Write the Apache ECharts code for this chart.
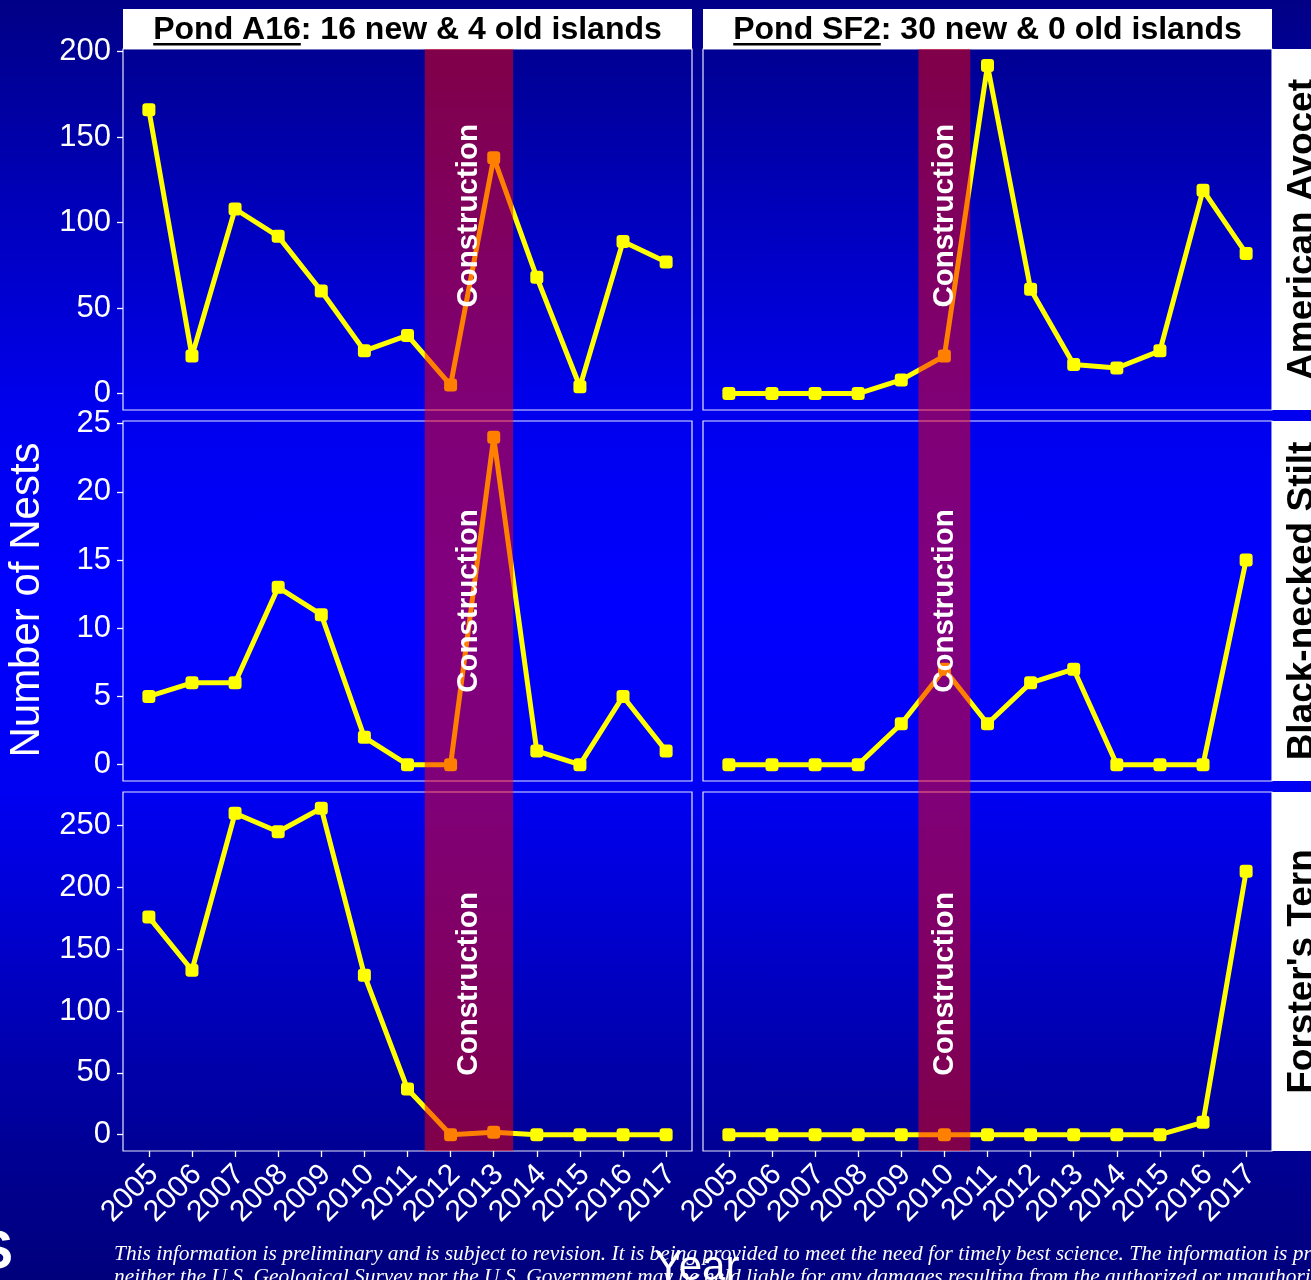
<!DOCTYPE html>
<html>
<head>
<meta charset="utf-8">
<script src="https://cdn.jsdelivr.net/npm/echarts@6/dist/echarts.min.js"></script>
<style>
  html, body { margin: 0; padding: 0; }
  body {
    width: 1311px; height: 1280px; overflow: hidden;
    background: linear-gradient(to bottom, #000086 0%, #0000ee 32%, #0000ff 47%, #0000f2 62%, #000094 90%, #00007c 100%);
  }
  #chart { width: 1311px; height: 1280px; }
</style>
</head>
<body>
<div id="chart"></div>
<script>
// Nest counts per survey year, one array per pond and species
const years = [2005, 2006, 2007, 2008, 2009, 2010, 2011, 2012, 2013, 2014, 2015, 2016, 2017];
const avocetA16 = [166, 22, 108, 92, 60, 25, 34, 5, 138, 68, 4, 89, 77];
const avocetSF2 = [0, 0, 0, 0, 8, 22, 192, 61, 17, 15, 25, 119, 82];
const stiltA16  = [5, 6, 6, 13, 11, 2, 0, 0, 24, 1, 0, 5, 1];
const stiltSF2  = [0, 0, 0, 0, 3, 7, 3, 6, 7, 0, 0, 0, 15];
const ternA16   = [176, 133, 260, 245, 264, 129, 37, 0, 2, 0, 0, 0, 0];
const ternSF2   = [0, 0, 0, 0, 0, 0, 0, 0, 0, 0, 0, 10, 213];

// Island construction windows (year range) for each pond
const constructionA16 = [2011.4, 2013.45];
const constructionSF2 = [2009.4, 2010.6];
const constructionLabelY = [104, 12, 122];

// Facet labels
const pondNames = ['Pond A16', 'Pond SF2'];
const pondNotes = [': 16 new & 4 old islands', ': 30 new & 0 old islands'];
const speciesNames = ['American Avocet', 'Black-necked Stilt', "Forster's Tern"];

// Y tick labels per species row
const yTicksAvocet = [0, 50, 100, 150, 200];
const yTicksStilt = [0, 5, 10, 15, 20, 25];
const yTicksTern = [0, 50, 100, 150, 200, 250];

// ---- layout ----
const colLeft = [123, 703];
const colWidth = 569;
const rowTop = [49, 421, 792];
const rowHeight = [361, 360, 359];
const xMin = 2004.4, xMax = 2017.6;
const FONT = '"Liberation Sans", Arial, Helvetica, sans-serif';

const rows = [
  [avocetA16, avocetSF2],
  [stiltA16, stiltSF2],
  [ternA16, ternSF2]
];
const rowTicks = [yTicksAvocet, yTicksStilt, yTicksTern];
const bands = [constructionA16, constructionSF2];

const grid = [], xAxis = [], yAxis = [], series = [];

rows.forEach((pair, r) => {
  const rowMax = Math.max(...pair[0], ...pair[1]);
  const yMinV = -0.05 * rowMax, yMaxV = 1.05 * rowMax;
  pair.forEach((vals, c) => {
    const idx = grid.length;
    grid.push({
      left: colLeft[c], top: rowTop[r], width: colWidth, height: rowHeight[r],
      show: true, backgroundColor: 'transparent',
      borderColor: 'rgba(240,240,255,0.95)', borderWidth: 1.2
    });
    const bottom = r === 2;
    xAxis.push({
      gridIndex: idx, type: 'value', min: xMin, max: xMax,
      axisLine: { show: false, onZero: false },
      splitLine: { show: false },
      axisTick: { show: bottom, customValues: years, length: 6, lineStyle: { color: '#ffffff', width: 1.3 } },
      axisLabel: {
        show: bottom, customValues: years, rotate: 45, margin: 14,
        verticalAlign: 'top', lineHeight: 14,
        color: '#ffffff', fontSize: 30, fontFamily: FONT,
        formatter: v => String(v)
      }
    });
    const left = c === 0;
    yAxis.push({
      gridIndex: idx, type: 'value', min: yMinV, max: yMaxV,
      axisLine: { show: false, onZero: false },
      splitLine: { show: false },
      axisTick: { show: left, customValues: rowTicks[r], length: 6, lineStyle: { color: '#ffffff', width: 1.3 } },
      axisLabel: {
        show: left, customValues: rowTicks[r], margin: 12,
        color: '#ffffff', fontSize: 31, fontFamily: FONT
      }
    });
    series.push({
      type: 'line', xAxisIndex: idx, yAxisIndex: idx, z: 2,
      data: years.map((y, i) => [y, vals[i]]),
      lineStyle: { color: '#ffff00', width: 5 },
      itemStyle: { color: '#ffff00' },
      symbol: 'roundRect', symbolSize: 13, showSymbol: true
    });
    const band = bands[c];
    series.push({
      type: 'scatter', xAxisIndex: idx, yAxisIndex: idx, z: 8,
      data: [[(band[0] + band[1]) / 2, constructionLabelY[r]]],
      symbolSize: 0.1, itemStyle: { color: 'rgba(0,0,0,0)', opacity: 1 },
      label: {
        show: true, position: 'inside', rotate: 90, opacity: 1,
        formatter: 'Construction',
        color: '#ffffff', fontWeight: 'bold', fontSize: 29.5, fontFamily: FONT
      }
    });
  });
});

// Full-height grids carrying the construction bands over each column
bands.forEach((band, c) => {
  const idx = grid.length;
  grid.push({
    left: colLeft[c], top: rowTop[0], width: colWidth,
    height: rowTop[2] + rowHeight[2] - rowTop[0], show: false
  });
  xAxis.push({ gridIndex: idx, type: 'value', min: xMin, max: xMax, show: false });
  yAxis.push({ gridIndex: idx, type: 'value', min: 0, max: 1, show: false });
  series.push({
    type: 'custom', xAxisIndex: idx, yAxisIndex: idx, z: 5,
    data: [band],
    encode: { x: [0, 1] },
    renderItem: (params, api) => {
      const x0 = api.coord([api.value(0), 0])[0];
      const x1 = api.coord([api.value(1), 0])[0];
      const cs = params.coordSys;
      return {
        type: 'rect',
        shape: { x: x0, y: cs.y, width: x1 - x0, height: cs.height },
        style: { fill: 'rgba(255,0,0,0.5)' }
      };
    }
  });
});

// ---- facet strips and page text ----
const measureCtx = document.createElement('canvas').getContext('2d');
function textWidth(txt, font) { measureCtx.font = font; return measureCtx.measureText(txt).width; }

const graphic = [];
const titleFont = 'bold 32px ' + FONT;
pondNames.forEach((name, c) => {
  graphic.push({
    type: 'rect', shape: { x: colLeft[c], y: 9, width: colWidth, height: rowTop[0] - 9 },
    style: { fill: '#ffffff' }, silent: true
  });
  const full = name + pondNotes[c];
  const w = textWidth(full, titleFont);
  const x0 = colLeft[c] + colWidth / 2 - w / 2;
  graphic.push({
    type: 'text', x: x0, y: 30, silent: true,
    style: { text: full, font: titleFont, fill: '#000000', align: 'left', verticalAlign: 'middle' }
  });
  graphic.push({
    type: 'rect', silent: true,
    shape: { x: x0, y: 43, width: textWidth(name, titleFont), height: 2.6 },
    style: { fill: '#000000' }
  });
});

const stripFont = 'bold 37px ' + FONT;
speciesNames.forEach((sp, r) => {
  graphic.push({
    type: 'rect', silent: true,
    shape: { x: colLeft[1] + colWidth, y: rowTop[r], width: 60, height: rowHeight[r] },
    style: { fill: '#ffffff' }
  });
  graphic.push({
    type: 'text', silent: true,
    x: 1303, y: rowTop[r] + rowHeight[r] / 2, rotation: Math.PI / 2,
    style: { text: sp, font: stripFont, fill: '#000000', align: 'center', verticalAlign: 'middle' }
  });
});

graphic.push({
  type: 'text', silent: true, x: 27, y: 600, rotation: Math.PI / 2,
  style: { text: 'Number of Nests', font: '42px ' + FONT, fill: '#ffffff', align: 'center', verticalAlign: 'middle' }
});

const disclaimerFont = 'italic 21.4px "Liberation Serif", "Times New Roman", serif';
graphic.push({
  type: 'text', silent: true, x: 114, y: 1254,
  style: {
    text: 'This information is preliminary and is subject to revision. It is being provided to meet the need for timely best science. The information is provided on the condition that',
    font: disclaimerFont, fill: '#ffffff', align: 'left', verticalAlign: 'middle'
  }
});
graphic.push({
  type: 'text', silent: true, x: 114, y: 1277,
  style: {
    text: 'neither the U.S. Geological Survey nor the U.S. Government may be held liable for any damages resulting from the authorized or unauthorized use of the information.',
    font: disclaimerFont, fill: '#ffffff', align: 'left', verticalAlign: 'middle'
  }
});
graphic.push({
  type: 'text', silent: true, x: 697, y: 1268,
  style: { text: 'Year', font: '42px ' + FONT, fill: '#ffffff', align: 'center', verticalAlign: 'middle' }
});
graphic.push({
  type: 'text', silent: true, x: 13, y: 1253,
  style: { text: 'USGS', font: 'bold 54px ' + FONT, fill: '#ffffff', align: 'right', verticalAlign: 'middle' }
});

const chart = echarts.init(document.getElementById('chart'), null, { renderer: 'canvas' });
chart.setOption({
  backgroundColor: 'transparent',
  animation: false,
  grid, xAxis, yAxis, series, graphic
});
</script>
</body>
</html>
